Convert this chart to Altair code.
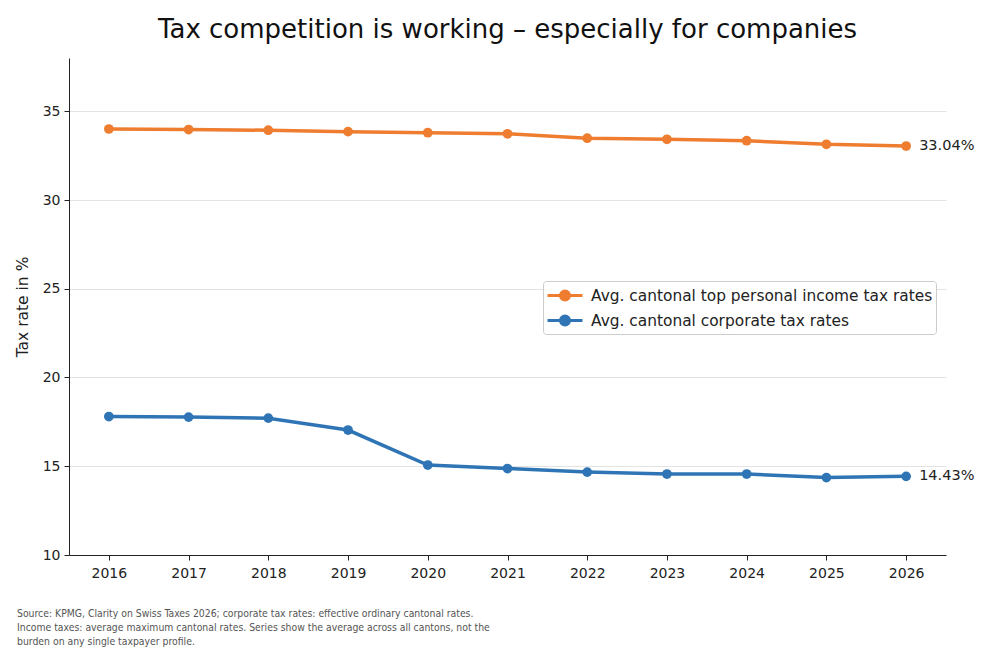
import altair as alt
import pandas as pd

years = [2016, 2017, 2018, 2019, 2020, 2021, 2022, 2023, 2024, 2025, 2026]
personal = [34.00, 33.97, 33.93, 33.85, 33.79, 33.73, 33.48, 33.42, 33.34, 33.14, 33.04]
corporate = [17.80, 17.77, 17.71, 17.04, 15.07, 14.87, 14.67, 14.56, 14.56, 14.36, 14.43]
series_names = ["Avg. cantonal top personal income tax rates", "Avg. cantonal corporate tax rates"]
series_colors = ["#ee7d30", "#2f75b5"]
y_ticks = [10, 15, 20, 25, 30, 35]
title_text = "Tax competition is working – especially for companies"
y_title = "Tax rate in %"
footer = [
    "Source: KPMG, Clarity on Swiss Taxes 2026; corporate tax rates: effective ordinary cantonal rates.",
    "Income taxes: average maximum cantonal rates. Series show the average across all cantons, not the",
    "burden on any single taxpayer profile.",
]

rows = []
for name, vals in zip(series_names, [personal, corporate]):
    for yr, v in zip(years, vals):
        rows.append({"year": yr, "rate": v, "series": name, "label": f"{v:.2f}%"})
df = pd.DataFrame(rows)

FONT = "DejaVu Sans"

x_enc = alt.X("year:Q", scale=alt.Scale(domain=[2015.5, 2026.5], nice=False, zero=False),
              axis=alt.Axis(values=years, format="d", title=None, grid=False, labelFontSize=14,
                            labelColor="#222", domainColor="#222", tickColor="#222", tickSize=5,
                            labelPadding=6, labelFlush=False))
y_enc = alt.Y("rate:Q", scale=alt.Scale(domain=[10, 38], nice=False, zero=False),
              axis=alt.Axis(values=y_ticks, title=y_title, titleFontSize=15.5, titleFontWeight="normal",
                            titleColor="#222", titlePadding=12, grid=True, gridColor="#e3e3e3",
                            labelFontSize=14, labelColor="#222", domainColor="#222", tickColor="#222",
                            tickSize=5, labelPadding=4))

# legend symbol: a line with a (ring-filled) dot
sym_path = ("M-1.75,0L1.75,0"
            "M-0.45,0A0.45,0.45 0 1,1 0.45,0A0.45,0.45 0 1,1 -0.45,0"
            "M-0.3,0A0.3,0.3 0 1,1 0.3,0A0.3,0.3 0 1,1 -0.3,0"
            "M-0.15,0A0.15,0.15 0 1,1 0.15,0A0.15,0.15 0 1,1 -0.15,0")

lines = alt.Chart(df).mark_line(strokeWidth=3.5, point=alt.OverlayMarkDef(filled=True, size=95, opacity=1)).encode(
    x=x_enc, y=y_enc,
    color=alt.Color("series:N", scale=alt.Scale(domain=series_names, range=series_colors),
                    sort=series_names,
                    legend=alt.Legend(title=None, orient="none", legendX=474, legendY=223,
                                      symbolType=sym_path, symbolSize=400, symbolStrokeWidth=3,
                                      symbolOffset=7.5, labelOffset=14.5,
                                      labelFontSize=15.4, labelColor="#222", labelFont=FONT,
                                      padding=3, rowPadding=3, fillColor="white",
                                      strokeColor="#cccccc", cornerRadius=3, labelLimit=500)),
)

labels = alt.Chart(df).transform_filter(alt.datum.year == 2026).mark_text(
    align="left", baseline="middle", dx=13, fontSize=14.5, color="#222", font=FONT
).encode(x="year:Q", y="rate:Q", text="label:N")

foot = alt.Chart(pd.DataFrame({"t": [0]})).mark_text(
    align="left", baseline="alphabetic", fontSize=10.35, color="#555",
    font="DejaVu Sans Condensed", lineHeight=14
).encode(x=alt.value(-52), y=alt.value(559), text=alt.value(footer))

chart = alt.layer(lines, labels, foot).properties(
    width=877, height=497,
    title=alt.Title(title_text, fontSize=26, font=FONT, fontWeight="normal", color="#111",
                    anchor="middle", offset=15),
    autosize=alt.AutoSizeParams(type="none"),
    padding={"left": 61, "top": 50, "right": 46, "bottom": 97},
).configure(font=FONT).configure_view(stroke=None).configure_axis(labelFont=FONT, titleFont=FONT)

chart.save("out.html", embed_options={"renderer": "svg", "actions": False})
